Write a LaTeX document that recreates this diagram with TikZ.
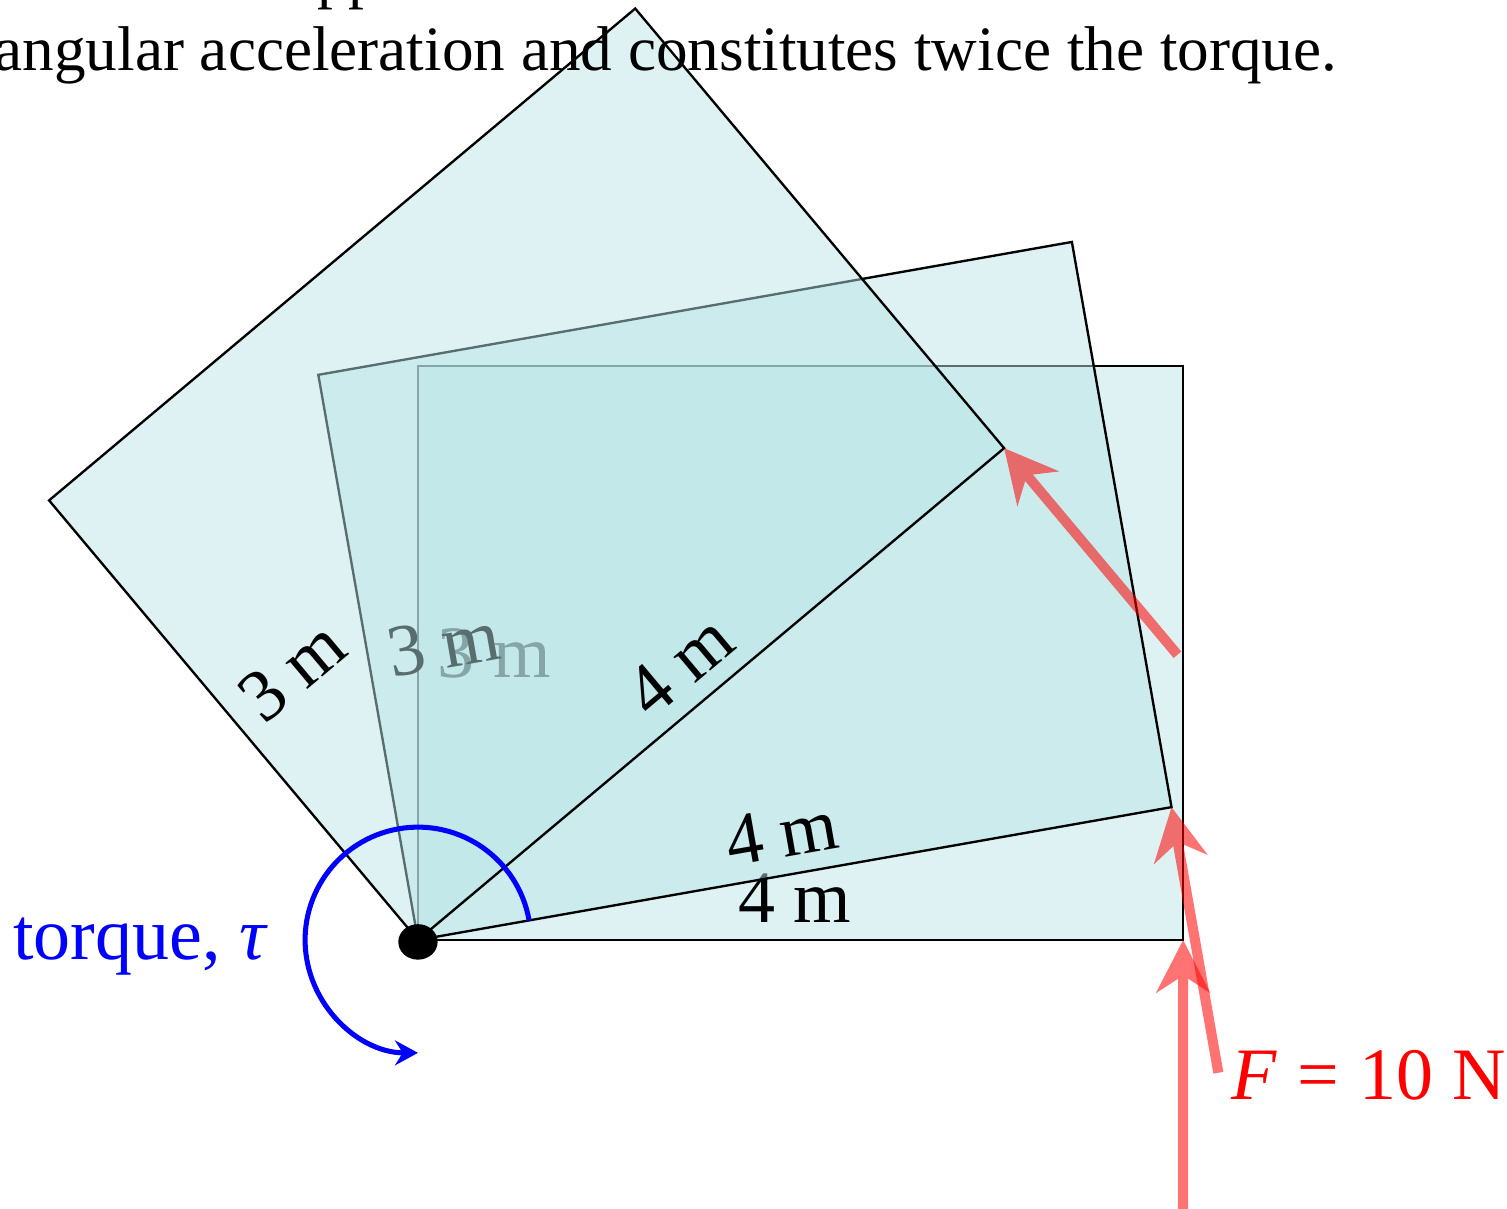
\documentclass[tikz,border=0pt]{standalone}
\usepackage{fontspec}
\setmainfont{Liberation Serif}
\usetikzlibrary{arrows.meta,calc,shapes.geometric}
\definecolor{platefill}{RGB}{185,228,230}
\tikzset{
  every picture/.style={line width=0.6pt},
  plate/.style={draw=black,fill=platefill,fill opacity=0.48,line width=0.7pt},
  dim/.style={font=\fontsize{22}{26}\selectfont,inner sep=0pt},
  capline/.style={font=\fontsize{18.8}{22}\selectfont,inner sep=0pt},
  frc/.style={-{Stealth[length=5.5mm,width=5.6mm,inset=1.8mm]},red,line width=3pt},
  trq/.style={-{Stealth[length=2.4mm,width=2.6mm,inset=0.8mm]},blue,line width=1.5pt},
  pivot/.style={draw,fill,ellipse,inner sep=0,minimum width=3.9mm,minimum height=3.5mm},
}
% one 4 m x 3 m plate, turned by #1 degrees about the pivot
\newcommand{\plate}[2]{
  \begin{scope}[rotate=#1]
    \draw[plate] (0,0) rectangle (4,3);
    \node[dim,rotate=#1] (#2h) at (0.4,1.5) {3 m};
    \node[dim,rotate=#1] (#2w) at (1.97,0.22) {4 m};
    \coordinate (#2c) at (4,0);
    \coordinate (#2s) at (4,-1.41);
  \end{scope}}
% pushing force on plate #1, see-through as one piece
\newcommand{\force}[1]{
  \begin{scope}[transparency group,opacity=0.55]
    \draw[frc] (#1s) -- (#1c);
  \end{scope}}

\begin{document}
\begin{tikzpicture}[x=2cm,y=2cm]
\useasboundingbox (-2.185,-1.406) rectangle (5.693,4.914);
% plates at 0, 10 and 40 degrees
\plate{0}{A}
\plate{10}{B}
\plate{40}{C}
% forces at the far corners
\force{A}
\force{B}
\force{C}
\node[red,dim,anchor=base west] (F) at (4.245,-0.836) {\textit{F}\kern0.28em=\kern0.28em10 N};
% torque about the pivot
\coordinate (T0) at (10:0.59);
\draw[trq] (T0) arc[start angle=10,end angle=270,radius=0.59];
\node[blue,dim,anchor=base east] (tau) at (-0.78,-0.1) {torque, \textit{τ}};
\node[pivot] (P) at (0,-0.01) {};
% caption lines (cut at the top)
\node[capline,anchor=base west] (cap0) at (-0.533,4.93) {pp};
\node[capline,anchor=base east] (cap1) at (4.81,4.548) {angular acceleration and constitutes twice the torque.};
\end{tikzpicture}
\end{document}
